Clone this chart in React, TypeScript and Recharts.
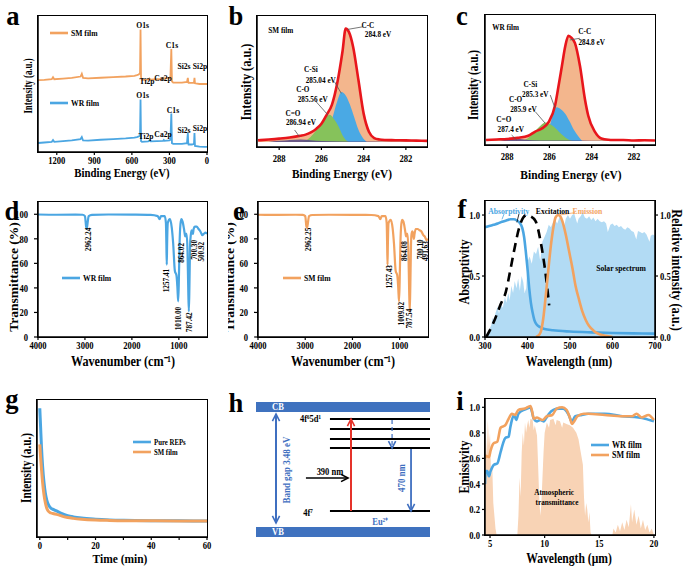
import React from "react";
import {
  ComposedChart,
  Line,
  Area,
  XAxis,
  YAxis,
  ReferenceArea,
  ReferenceLine,
  ReferenceDot,
} from "recharts";

const FONT = '"Liberation Serif", "Times New Roman", serif';
const BLUE = "#4ba6e2";
const ORANGE = "#f2a25f";
const RED = "#e8161c";
const CC_FILL = "#f3b68d";
const SI_FILL = "#4aa9e4";
const O_FILL = "#86c25b";
const CO_FILL = "#5d4f86";
const SOLAR = "#b2dbf4";
const ATMOS = "#f8d3b5";
const BAND = "#3f72bf";
const HBLUE = "#3f6fc0";

// ---------- a: XPS survey ----------
const aEnergy = [1350, 1300, 1240, 1230, 1220, 1150, 1080, 1010, 1000, 990, 950, 850, 750, 650, 580, 560, 545, 535, 531, 527, 520, 470, 460, 450, 400, 350, 345, 340, 300, 292, 285, 280, 270, 200, 160, 153, 150, 147, 120, 104, 100, 96, 60, 20, 0];
const aSM = [52.8, 53, 53.5, 55, 53.5, 54, 54.5, 55.5, 57.5, 54.5, 54.2, 54.6, 55, 55.5, 56, 56.5, 57, 58, 90, 55, 53, 53.2, 54, 53.2, 53.5, 53.8, 54.5, 54, 54.5, 55.5, 75.7, 52, 51, 51, 51.5, 54.5, 52, 50.8, 50.8, 51, 54.5, 50.5, 50, 50, 50];
const aWR = [6.6, 7, 7.5, 8.8, 7.5, 8, 8.5, 9.5, 11, 8.5, 8.3, 9, 9.5, 10, 10.5, 11, 11.5, 12, 38.6, 8, 7.5, 7.8, 8.5, 7.8, 8, 8.2, 8.8, 8.2, 8.5, 9, 28.3, 6.5, 6, 6, 6.5, 14, 7, 5.5, 5.5, 6, 14, 4.5, 4, 3.8, 3.7];
const aTicks = [1200, 900, 600, 300, 0];
const aNotes = [
  { x: 514, y: 93.4, t: "O1s" }, { x: 280, y: 78.7, t: "C1s" }, { x: 479, y: 52.2, t: "Ti2p" },
  { x: 351, y: 54.4, t: "Ca2p" }, { x: 184, y: 63.2, t: "Si2s" }, { x: 56, y: 63.2, t: "Si2p" },
  { x: 514, y: 41.9, t: "O1s" }, { x: 272, y: 30.9, t: "C1s" }, { x: 487, y: 11.8, t: "Ti2p" },
  { x: 351, y: 13.2, t: "Ca2p" }, { x: 184, y: 16.2, t: "Si2s" }, { x: 56, y: 17.6, t: "Si2p" },
];

// ---------- b: C1s SM film ----------
const bEnvE = [289.0, 288.5, 288.0, 287.5, 287.0, 286.75, 286.5, 286.25, 286.0, 285.75, 285.5, 285.25, 285.0, 284.85, 284.7, 284.5, 284.25, 284.0, 283.75, 283.5, 283.25, 283.0, 282.5, 282.0, 281.5, 281.0];
const bEnv = [1.5, 2.2, 3, 4, 5.5, 6.5, 8.5, 11.5, 16, 24, 33, 52, 80, 100, 97, 84, 55, 25, 9, 3.5, 2.2, 1.8, 1.6, 1.4, 1.2, 1];
const bSiE = [286.0, 285.75, 285.5, 285.25, 285.05, 284.85, 284.65, 284.45, 284.25, 284.05, 283.85];
const bSi = [0, 7, 20, 36, 44, 41, 33, 22, 11, 4, 0];
const bOE = [286.9, 286.6, 286.3, 286.0, 285.75, 285.6, 285.4, 285.2, 285.0, 284.8, 284.7];
const bO = [0, 3, 9, 17, 22.5, 24, 20, 14, 6, 1, 0];
const bCOE = [288.5, 288.0, 287.5, 287.0, 286.5, 286.0, 285.0, 284.0, 283.0, 282.0, 281.6];
const bCO = [0, 1, 1.8, 2.2, 1.6, 0.8, 0.5, 0.4, 0.3, 0.2, 0];
const bNotes = [
  { x: 287.92, y: 98.6, t: "SM film" },
  { x: 283.8, y: 103.0, t: "C-C" }, { x: 283.32, y: 95.0, t: "284.8 eV" },
  { x: 286.5, y: 64.2, t: "C-Si" }, { x: 286.03, y: 54.6, t: "285.04 eV" },
  { x: 286.88, y: 46.6, t: "C-O" }, { x: 286.41, y: 37.8, t: "285.56 eV" },
  { x: 287.35, y: 25.5, t: "C=O" }, { x: 286.97, y: 17.6, t: "286.94 eV" },
];
const bLeads = [
  [284.04, 101.5, 284.75, 99.2], [285.38, 53.1, 285.06, 42.9],
  [286.25, 35.5, 285.69, 23.8], [287.27, 10.6, 287.04, 4.7],
];

// ---------- c: C1s WR film ----------
const cEnvE = [289.0, 288.5, 288.0, 287.5, 287.0, 286.67, 286.35, 286.04, 285.73, 285.57, 285.41, 285.25, 285.1, 284.95, 284.79, 284.55, 284.32, 284.16, 283.85, 283.54, 283.2, 283.0, 282.5, 282.0, 281.5, 281.0];
const cEnv = [1, 1.5, 2, 3, 5, 9, 12, 18, 34, 52, 71, 90, 100, 98, 93, 71, 40, 24, 9, 2.5, 1.2, 1, 1, 0.5, 0.8, 0.5];
const cSiE = [286.45, 286.2, 285.95, 285.8, 285.65, 285.45, 285.25, 285.05, 284.85, 284.65, 284.45];
const cSi = [0, 6, 17, 27, 32, 30, 26, 19, 11, 5, 0];
const cOE = [287.4, 287.0, 286.7, 286.4, 286.2, 286.0, 285.7, 285.4, 285.1, 284.9];
const cO = [0, 3, 9, 15, 17.5, 16.5, 12, 6, 1.5, 0];
const cCOE = [288.4, 288.0, 287.6, 287.2, 286.8, 286.0, 285.0, 284.0, 283.0, 282.0, 281.6];
const cCO = [0, 1.5, 2.5, 1.5, 0.8, 0.6, 0.5, 0.4, 0.3, 0.2, 0];
const cNotes = [
  { x: 288.07, y: 108.3, t: "WR film" },
  { x: 284.33, y: 104.5, t: "C-C" }, { x: 284.0, y: 94.1, t: "284.8 eV" },
  { x: 286.9, y: 54.2, t: "C-Si" }, { x: 286.67, y: 44.7, t: "285.3 eV" },
  { x: 287.6, y: 39.9, t: "C-O" }, { x: 287.23, y: 30.4, t: "285.9 eV" },
  { x: 288.16, y: 20.9, t: "C=O" }, { x: 287.83, y: 11.4, t: "287.4 eV" },
];
const cLeads = [
  [284.56, 97.6, 285.03, 96.0], [285.96, 43.7, 285.73, 31.1],
  [286.67, 27.9, 286.2, 16.9], [287.79, 5.7, 287.55, 1.0],
];
const xpsTicks = [288, 286, 284, 282];

// ---------- d, e: FTIR ----------
const irNu = [4000, 3600, 3200, 3050, 3000, 2975, 2962, 2950, 2920, 2850, 2500, 2000, 1600, 1450, 1410, 1380, 1300, 1275, 1265, 1257, 1250, 1235, 1190, 1150, 1120, 1085, 1050, 1030, 1014, 1000, 985, 965, 945, 920, 890, 870, 864, 855, 835, 815, 800, 787, 775, 760, 748, 730, 715, 700, 685, 660, 620, 580, 540, 500, 470, 430, 400];
const dT = [99.8, 99.6, 99.7, 99.6, 98.5, 90, 88, 91, 98.5, 99.5, 99.8, 99.7, 99.5, 98.5, 96, 98.5, 98.5, 93, 75, 59, 75, 93, 96, 89, 76, 54, 50, 40, 29, 45, 75, 92, 96, 94, 88, 83, 82, 84, 84, 70, 40, 21, 40, 75, 82, 87, 86, 84, 88, 90, 90, 88, 86, 83, 84, 85, 84];
const eT = [99.6, 99.5, 99.6, 99.5, 98.5, 90, 89, 91, 98.5, 99.4, 99.6, 99.5, 99.4, 98.5, 96, 98.5, 98.5, 93, 75, 59, 75, 93, 95.5, 89, 76, 54, 50, 40, 29, 45, 75, 92, 95.5, 94, 88, 83, 82, 84, 84, 70, 40, 21, 40, 75, 84, 86, 84, 80, 84, 88, 88, 87, 86, 83, 82, 79, 80];
const irTicksX = [4000, 3000, 2000, 1000];
const irTicksY = [0, 20, 40, 60, 80, 100];
const dNotes = [
  { x: 2937, y: 79.5, t: "2962.24" }, { x: 1259, y: 46, t: "1257.41" }, { x: 1014, y: 15, t: "1010.00" },
  { x: 944, y: 68.5, t: "864.02" }, { x: 769, y: 12, t: "787.42" }, { x: 664, y: 71, t: "700.30" },
  { x: 524, y: 69.5, t: "500.92" },
];
const eNotes = [
  { x: 2941, y: 79.5, t: "2962.25" }, { x: 1227, y: 49, t: "1257.43" }, { x: 965, y: 19, t: "1009.82" },
  { x: 895, y: 70, t: "864.08" }, { x: 789, y: 15, t: "787.54" }, { x: 556, y: 71.5, t: "700.10" },
  { x: 450, y: 70, t: "491.63" },
];

// ---------- f: optical ----------
const fSolar = [[300, 0], [305, 0.02], [310, 0.06], [315, 0.1], [318, 0.16], [320, 0.12], [325, 0.2], [330, 0.25], [333, 0.19], [337, 0.27], [342, 0.24], [347, 0.33], [350, 0.28], [355, 0.36], [358, 0.3], [362, 0.42], [366, 0.36], [370, 0.46], [374, 0.4], [378, 0.48], [382, 0.38], [386, 0.5], [390, 0.45], [393, 0.36], [397, 0.4], [400, 0.62], [405, 0.66], [410, 0.6], [415, 0.7], [420, 0.68], [425, 0.74], [430, 0.62], [435, 0.78], [440, 0.82], [445, 0.86], [450, 0.92], [455, 0.9], [460, 0.94], [465, 0.96], [470, 0.93], [475, 0.98], [480, 0.99], [486, 0.9], [490, 0.97], [495, 1.0], [500, 0.97], [505, 1.0], [510, 1.01], [517, 0.93], [520, 0.97], [525, 0.99], [530, 1.02], [535, 0.98], [540, 0.97], [545, 0.99], [550, 0.96], [555, 0.98], [560, 0.95], [565, 0.97], [570, 0.95], [575, 0.94], [580, 0.95], [585, 0.93], [589, 0.86], [595, 0.92], [600, 0.93], [605, 0.91], [610, 0.92], [615, 0.9], [620, 0.91], [625, 0.89], [630, 0.88], [635, 0.9], [640, 0.89], [645, 0.87], [650, 0.86], [656, 0.8], [660, 0.87], [665, 0.86], [670, 0.85], [675, 0.86], [680, 0.84], [687, 0.78], [690, 0.83], [695, 0.84], [700, 0.83]];
const fAbs = [[300, 0.9], [310, 0.91], [320, 0.92], [330, 0.93], [340, 0.945], [350, 0.955], [360, 0.965], [368, 0.965], [375, 0.955], [382, 0.935], [388, 0.89], [392, 0.82], [396, 0.7], [400, 0.56], [404, 0.4], [408, 0.28], [412, 0.2], [416, 0.14], [422, 0.1], [430, 0.08], [440, 0.065], [460, 0.055], [500, 0.045], [550, 0.038], [600, 0.033], [650, 0.03], [700, 0.028]];
const fExc = [[303, 0], [315, 0.08], [325, 0.16], [337, 0.27], [349, 0.37], [358, 0.52], [368, 0.7], [380, 0.89], [390, 0.98], [398, 1.0], [407, 0.99], [419, 0.95], [431, 0.78], [441, 0.56], [451, 0.26]];
const fEm = [[420, 0], [425, 0.01], [431, 0.04], [437, 0.15], [443, 0.34], [449, 0.55], [455, 0.75], [461, 0.9], [466, 0.98], [472, 1.0], [477, 0.99], [482, 0.95], [490, 0.84], [498, 0.7], [506, 0.56], [513, 0.42], [521, 0.31], [529, 0.21], [537, 0.14], [545, 0.09], [556, 0.05], [568, 0.025], [584, 0.01], [600, 0]];
const fNotes = [
  { x: 356, y: 1.027, t: "Absorptivity", c: BLUE },
  { x: 459, y: 1.027, t: "Excitation", c: "#000" },
  { x: 541, y: 1.027, t: "Emission", c: ORANGE },
  { x: 620, y: 0.564, t: "Solar spectrum", c: "#000" },
];
const fLeads = [
  [345, 1.01, 340, 0.965, BLUE], [380, 1.01, 375, 0.94, "#000"], [512, 1.02, 476, 1.0, ORANGE],
];

// ---------- g: afterglow ----------
const gT = [0, 0.3, 0.6, 1, 1.5, 2, 2.5, 3, 4, 5, 6, 7, 8, 10, 12, 15, 20, 25, 30, 40, 50, 60];
const gPure = [94, 80, 66, 52, 40, 32, 27, 24, 21, 20, 19, 18, 17, 15.6, 14.7, 13.8, 13, 12.5, 12.2, 11.9, 11.8, 11.7];
const gSM = [67.6, 58, 50, 40, 31, 25, 21, 19, 17.5, 17, 16.5, 16, 15.2, 14.2, 13.6, 13, 12.4, 12.1, 11.9, 11.8, 11.7, 11.7];

// ---------- h: energy levels (diagram units 0..100) ----------
const hLevels = [87.4, 80, 72.6, 65.9];
const hGround = 19.3;

// ---------- i: emissivity ----------
const iWR = [[4.54, 0.4], [4.6, 0.5], [4.75, 0.5], [4.9, 0.46], [5.05, 0.5], [5.2, 0.53], [5.36, 0.55], [5.66, 0.56], [5.97, 0.65], [6.2, 0.72], [6.4, 0.76], [6.7, 0.77], [6.85, 0.84], [7.0, 0.9], [7.2, 0.94], [7.4, 0.9], [7.6, 0.95], [8.1, 0.98], [8.4, 0.99], [8.7, 1.0], [8.85, 0.96], [9.0, 0.91], [9.3, 0.89], [9.6, 0.9], [9.9, 0.89], [10.1, 0.91], [10.4, 0.95], [10.8, 0.98], [11.3, 0.99], [11.7, 0.99], [12.0, 0.97], [12.2, 0.94], [12.5, 0.89], [12.8, 0.93], [13.4, 0.94], [14.0, 0.95], [15.5, 0.95], [17.1, 0.93], [18.6, 0.92], [19.2, 0.91], [19.6, 0.9], [20.0, 0.89]];
const iSM = [[4.54, 0.6], [4.6, 0.62], [4.9, 0.61], [5.05, 0.66], [5.2, 0.7], [5.36, 0.72], [5.66, 0.73], [5.97, 0.84], [6.2, 0.85], [6.4, 0.86], [6.7, 0.91], [7.0, 0.95], [7.3, 0.94], [7.6, 0.98], [8.2, 0.99], [8.7, 1.01], [8.85, 0.97], [9.0, 0.91], [9.3, 0.92], [9.8, 0.9], [10.2, 0.93], [10.7, 0.94], [11.1, 0.99], [11.6, 1.0], [12.0, 0.98], [12.3, 0.92], [12.5, 0.87], [12.7, 0.89], [13.0, 0.93], [13.6, 0.95], [14.0, 0.95], [15.5, 0.94], [17.1, 0.93], [18.0, 0.93], [18.4, 0.95], [18.9, 0.92], [19.5, 0.94], [20.0, 0.9]];
const iAtm = [[4.54, 0.55], [4.6, 0.85], [4.7, 0.6], [4.8, 0.9], [4.9, 0.7], [5.0, 0.8], [5.1, 0.45], [5.2, 0.55], [5.3, 0.25], [5.4, 0.15], [5.5, 0.05], [5.6, 0], [7.5, 0], [7.6, 0.15], [7.7, 0.45], [7.8, 0.3], [7.9, 0.65], [8.0, 0.8], [8.1, 0.7], [8.2, 0.88], [8.3, 0.8], [8.4, 0.86], [8.5, 0.9], [8.6, 0.84], [8.7, 0.91], [8.9, 0.9], [9.0, 0.82], [9.1, 0.86], [9.3, 0.78], [9.4, 0.55], [9.5, 0.3], [9.6, 0.15], [9.7, 0.25], [9.8, 0.45], [9.9, 0.65], [10.0, 0.8], [10.2, 0.88], [10.4, 0.84], [10.5, 0.9], [10.8, 0.91], [11.0, 0.86], [11.1, 0.9], [11.4, 0.89], [11.6, 0.84], [11.7, 0.88], [12.0, 0.87], [12.3, 0.86], [12.6, 0.84], [12.9, 0.8], [13.1, 0.75], [13.3, 0.65], [13.5, 0.55], [13.6, 0.3], [13.7, 0.15], [13.8, 0.25], [13.9, 0.2], [14.0, 0.1], [14.1, 0.18], [14.2, 0.02], [14.3, 0], [16.2, 0], [16.3, 0.05], [16.5, 0.02], [16.7, 0.08], [16.9, 0.03], [17.1, 0.1], [17.3, 0.04], [17.5, 0.12], [17.7, 0.06], [17.9, 0.24], [18.0, 0.1], [18.2, 0.2], [18.4, 0.08], [18.6, 0.15], [18.8, 0.05], [19.0, 0.12], [19.2, 0.04], [19.4, 0.08], [19.6, 0.02], [19.8, 0.05], [20.0, 0]];
const iNotes = [
  { x: 10.86, y: 0.335, t: "Atmospheric" },
  { x: 11.13, y: 0.257, t: "transmittance" },
];

// ---------- helpers ----------
const zip = (xs: number[], ys: number[]) => xs.map((x, i) => ({ x, y: ys[i] }));
const pairs = (p: any[]) => p.map((q) => ({ x: q[0], y: q[1] }));

function SqText({ x, y, text, size = 9, color = "#000", anchor = "middle", angle = 0, sq = 0.85, weight = 700 }: any) {
  return (
    <text
      transform={`translate(${x},${y}) rotate(${angle}) scale(${sq},1)`}
      textAnchor={anchor}
      dominantBaseline="central"
      fontFamily={FONT}
      fontWeight={weight}
      fontSize={size}
      fill={color}
    >
      {text}
    </text>
  );
}

const num = (v: number) => String(v);
const one = (v: number) => v.toFixed(1);
const bottomTick = (fmt: (v: number) => string = num, dy = 3) => (p: any) => (
  <SqText x={p.x} y={p.y + dy} text={fmt(p.payload.value)} size={10.5} sq={0.82} />
);
const sideTick = (fmt: (v: number) => string = num, right = false) => (p: any) => (
  <SqText x={p.x} y={p.y} text={fmt(p.payload.value)} size={10.5} sq={0.82} anchor={right ? "start" : "end"} />
);

const AXL = { stroke: "#000", strokeWidth: 1.5 };
const TL = { stroke: "#000", strokeWidth: 1.2 };

const xAx = (domain: number[], ticks: number[], o: any = {}) => (
  <XAxis
    type="number"
    dataKey="x"
    domain={domain}
    ticks={ticks}
    interval={0}
    reversed={!!o.rev}
    allowDataOverflow
    height={22}
    axisLine={AXL}
    tickLine={TL}
    tickSize={3}
    tickMargin={2}
    tick={bottomTick(o.fmt, o.dy ?? 3)}
  />
);

const yAx = (domain: number[], ticks: number[] | null, o: any = {}) => (
  <YAxis
    yAxisId={o.id ?? 0}
    orientation={o.right ? "right" : "left"}
    type="number"
    dataKey="y"
    domain={domain}
    ticks={ticks ?? undefined}
    interval={0}
    allowDataOverflow
    width={o.width ?? 40}
    axisLine={AXL}
    tickLine={ticks ? TL : false}
    tickSize={ticks ? o.size ?? 3 : 0}
    tickMargin={o.gap ?? 2}
    tick={ticks ? sideTick(o.fmt, o.right) : false}
  />
);

const noteLabel = (n: any, size: number, angle = 0) => (p: any) => {
  const vb = p.viewBox || p;
  return <SqText x={vb.x} y={vb.y} text={n.t} size={size} color={n.c ?? "#000"} angle={angle} sq={0.85} />;
};

const notes = (list: any[], size = 8.5, angle = 0, yAxisId: any = 0) =>
  list.map((n, i) => (
    <ReferenceDot
      key={"n" + i}
      x={n.x}
      y={n.y}
      r={0}
      fill="none"
      stroke="none"
      yAxisId={yAxisId}
      ifOverflow="visible"
      label={noteLabel(n, size, angle)}
    />
  ));

const leads = (list: any[], color = "#555") =>
  list.map((s, i) => (
    <ReferenceLine
      key={"l" + i}
      segment={[{ x: s[0], y: s[1] }, { x: s[2], y: s[3] }]}
      stroke={s[4] ?? color}
      strokeWidth={0.8}
      ifOverflow="visible"
    />
  ));

const BOX: Record<string, { x: number; y: number; w: number; h: number }> = {
  a: { x: 38, y: 16, w: 169, h: 136 },
  b: { x: 257, y: 16, w: 170, h: 131 },
  c: { x: 485, y: 15, w: 170, h: 130 },
  d: { x: 38, y: 202, w: 169, h: 135 },
  e: { x: 258, y: 202, w: 170, h: 135 },
  f: { x: 485, y: 201, w: 170, h: 136 },
  g: { x: 37, y: 400, w: 170, h: 137 },
  h: { x: 256, y: 402, w: 174, h: 135 },
  i: { x: 485, y: 399, w: 170, h: 136 },
};
const framed = ["a", "b", "c", "d", "e", "f", "g", "i"];

function Plot({ box, rightAxis = 0, children }: any) {
  const L = 40, T = 4, B = 22;
  const R = rightAxis || 6;
  return (
    <div style={{ position: "absolute", left: box.x - L, top: box.y - T }}>
      <ComposedChart
        width={box.w + L + R}
        height={box.h + T + B}
        margin={{ top: T, right: rightAxis ? 0 : R, bottom: 0, left: 0 }}
      >
        {children}
      </ComposedChart>
    </div>
  );
}

const arrowShape = (color: string, o: any = {}) => (p: any) => {
  const { x1, y1, x2, y2 } = p;
  const ang = Math.atan2(y2 - y1, x2 - x1);
  const head = (x: number, y: number, a: number) => {
    const L = 7, W = 3.6;
    const bx = x - L * Math.cos(a), by = y - L * Math.sin(a);
    const px = -Math.sin(a) * W, py = Math.cos(a) * W;
    return <path d={`M${bx + px},${by + py} L${x},${y} L${bx - px},${by - py}`} fill="none" stroke={color} strokeWidth={1.6} />;
  };
  return (
    <g>
      <line x1={x1} y1={y1} x2={x2} y2={y2} stroke={color} strokeWidth={o.w ?? 1.8} strokeDasharray={o.dash ? "4 3" : undefined} />
      {head(x2, y2, ang)}
      {o.both ? head(x1, y1, ang + Math.PI) : null}
    </g>
  );
};

// ---------- panels ----------
function PanelA() {
  const xd = [0, 1350], yd = [0, 100];
  return (
    <Plot box={BOX.a}>
      {xAx(xd, aTicks, { rev: true })}
      {yAx(yd, null)}
      <Line data={zip(aEnergy, aSM)} dataKey="y" type="linear" stroke={ORANGE} strokeWidth={1.8} dot={false} isAnimationActive={false} />
      <Line data={zip(aEnergy, aWR)} dataKey="y" type="linear" stroke={BLUE} strokeWidth={1.8} dot={false} isAnimationActive={false} />
      {notes(aNotes, 9)}
    </Plot>
  );
}

function XpsPanel({ box, yd, env, envE, si, siE, o, oE, co, coE, nts, lds }: any) {
  const xd = [281, 289.05];
  return (
    <Plot box={box}>
      {xAx(xd, xpsTicks, { rev: true, dy: 6 })}
      {yAx(yd, null)}
      <Area data={zip(envE, env)} dataKey="y" type="monotone" fill={CC_FILL} fillOpacity={1} stroke="none" baseValue={0} isAnimationActive={false} />
      <Area data={zip(siE, si)} dataKey="y" type="monotone" fill={SI_FILL} fillOpacity={1} stroke="none" baseValue={0} isAnimationActive={false} />
      <Area data={zip(oE, o)} dataKey="y" type="monotone" fill={O_FILL} fillOpacity={1} stroke="none" baseValue={0} isAnimationActive={false} />
      <Area data={zip(coE, co)} dataKey="y" type="monotone" fill={CO_FILL} fillOpacity={0.9} stroke="none" baseValue={0} isAnimationActive={false} />
      <Line data={zip(envE, env)} dataKey="y" type="monotone" stroke={RED} strokeWidth={2.6} dot={false} isAnimationActive={false} />
      {leads(lds)}
      {notes(nts, 8.5)}
    </Plot>
  );
}

function IrPanel({ box, ys, color, nts }: any) {
  const xd = [400, 4000], yd = [0, 110];
  return (
    <Plot box={box}>
      {xAx(xd, irTicksX, { rev: true })}
      {yAx(yd, irTicksY, { size: 4, gap: 6 })}
      <Line data={zip(irNu, ys)} dataKey="y" type="monotone" stroke={color} strokeWidth={2.2} dot={false} isAnimationActive={false} />
      {notes(nts, 8.5, -90)}
    </Plot>
  );
}

function PanelF() {
  const xd = [300, 700], yd = [0, 1.115];
  return (
    <Plot box={BOX.f} rightAxis={26}>
      {xAx(xd, [300, 400, 500, 600, 700])}
      {yAx(yd, [0, 0.5, 1], { fmt: one })}
      {yAx(yd, [0, 0.5, 1], { fmt: one, id: "r", right: true, width: 26 })}
      <Area yAxisId="r" data={pairs(fSolar)} dataKey="y" type="linear" fill={SOLAR} fillOpacity={1} stroke="none" baseValue={0} isAnimationActive={false} />
      <Line data={pairs(fAbs)} dataKey="y" type="monotone" stroke={BLUE} strokeWidth={2.6} dot={false} isAnimationActive={false} />
      <Line data={pairs(fExc)} dataKey="y" type="monotone" stroke="#000" strokeWidth={2.6} strokeDasharray="9 6" dot={false} isAnimationActive={false} />
      <Line data={pairs(fEm)} dataKey="y" type="monotone" stroke={ORANGE} strokeWidth={2.6} dot={false} isAnimationActive={false} />
      {leads(fLeads)}
      {notes(fNotes, 9)}
    </Plot>
  );
}

function PanelG() {
  const xd = [-1, 60], yd = [0, 100];
  return (
    <Plot box={BOX.g}>
      {xAx(xd, [0, 10, 20, 30, 40, 50, 60], { fmt: (v: number) => (v % 20 === 0 ? String(v) : "") })}
      {yAx(yd, null)}
      <Line data={zip(gT, gPure)} dataKey="y" type="monotone" stroke={BLUE} strokeWidth={3} dot={false} isAnimationActive={false} />
      <Line data={zip(gT, gSM)} dataKey="y" type="monotone" stroke={ORANGE} strokeWidth={3} dot={false} isAnimationActive={false} />
    </Plot>
  );
}

function PanelH() {
  const b = BOX.h;
  const seg = (x1: number, y1: number, x2: number, y2: number) => [{ x: x1, y: y1 }, { x: x2, y: y2 }];
  const hNotes = [
    { x: 12.6, y: 96.3, t: "CB", c: "#fff" },
    { x: 12.6, y: 3.7, t: "VB", c: "#fff" },
    { x: 31.3, y: 87.4, t: "4f\u20765d\u00b9" },
    { x: 29.9, y: 17.8, t: "4f\u2077" },
    { x: 42.5, y: 48.1, t: "390 nm" },
    { x: 71.3, y: 11.1, t: "Eu\u00b2\u207a", c: HBLUE },
  ];
  const hRot = [
    { x: 17.2, y: 49.6, t: "Band gap 3.48 eV", c: HBLUE },
    { x: 83.3, y: 43.7, t: "470 nm", c: HBLUE },
  ];
  return (
    <div style={{ position: "absolute", left: b.x, top: b.y }}>
      <ComposedChart width={b.w} height={b.h} margin={{ top: 0, right: 0, bottom: 0, left: 0 }}>
        <XAxis type="number" dataKey="x" domain={[0, 100]} hide height={0} allowDataOverflow />
        <YAxis type="number" dataKey="y" domain={[0, 100]} hide width={0} allowDataOverflow />
        <ReferenceArea x1={0} x2={100} y1={92.6} y2={100} fill={BAND} fillOpacity={1} stroke="none" ifOverflow="visible" />
        <ReferenceArea x1={0} x2={100} y1={0} y2={7.4} fill={BAND} fillOpacity={1} stroke="none" ifOverflow="visible" />
        {hLevels.map((lv, i) => (
          <ReferenceLine key={"lv" + i} segment={seg(42.5, lv, 100, lv)} stroke="#000" strokeWidth={2} ifOverflow="visible" />
        ))}
        <ReferenceLine segment={seg(42.5, hGround, 100, hGround)} stroke="#000" strokeWidth={2} ifOverflow="visible" />
        <ReferenceLine segment={seg(11.5, 91.1, 11.5, 10.4)} ifOverflow="visible" shape={arrowShape(HBLUE, { both: true, w: 2 })} />
        <ReferenceLine segment={seg(54.6, hGround, 54.6, 87.4)} ifOverflow="visible" shape={arrowShape("#e5332a", { w: 2 })} />
        <ReferenceLine segment={seg(28.7, 43.7, 52.9, 43.7)} ifOverflow="visible" shape={arrowShape("#000", { w: 1.4 })} />
        <ReferenceLine segment={seg(78.2, 86.7, 78.2, 65.9)} ifOverflow="visible" shape={arrowShape(HBLUE, { dash: true, w: 1.2 })} />
        <ReferenceLine segment={seg(89.1, 65.2, 89.1, hGround)} ifOverflow="visible" shape={arrowShape(HBLUE, { w: 1.8 })} />
        {notes(hNotes, 10)}
        {notes(hRot, 10.5, -90)}
      </ComposedChart>
    </div>
  );
}

function PanelI() {
  const xd = [4.54, 20.1], yd = [0, 1.065];
  return (
    <Plot box={BOX.i}>
      {xAx(xd, [5, 10, 15, 20])}
      {yAx(yd, [0, 0.2, 0.4, 0.6, 0.8, 1.0], { fmt: one })}
      <Area data={pairs(iAtm)} dataKey="y" type="linear" fill={ATMOS} fillOpacity={1} stroke="none" baseValue={0} isAnimationActive={false} />
      <Line data={pairs(iWR)} dataKey="y" type="monotone" stroke={BLUE} strokeWidth={2.6} dot={false} isAnimationActive={false} />
      <Line data={pairs(iSM)} dataKey="y" type="monotone" stroke={ORANGE} strokeWidth={2.6} dot={false} isAnimationActive={false} />
      {notes(iNotes, 8.5)}
    </Plot>
  );
}

// ---------- overlay texts ----------
const letters: [string, number, number][] = [
  ["a", 13, 16], ["b", 236, 16], ["c", 462, 16], ["d", 12, 211], ["e", 239, 211],
  ["f", 462, 209], ["g", 12, 399], ["h", 236, 403], ["i", 460, 401],
];
const titles: any[] = [
  ["Binding Energy (eV)", 122, 173, 0, 13.5, 0.8],
  ["Intensity (a.u.)", 27, 86, -90, 13, 0.68],
  ["Binding Energy (eV)", 342, 174, 0, 13.5, 0.84],
  ["Intensity (a.u.)", 246, 82, -90, 14, 0.88],
  ["Binding Energy (eV)", 571, 175, 0, 13.5, 0.85],
  ["Intensity (a.u.)", 474, 85, -90, 14, 0.8],
  ["Wavenumber (cm\u207b\u00b9)", 123, 361, 0, 14, 0.87],
  ["Transmittance (%)", 13, 277, -90, 13.5, 1],
  ["Wavenumber (cm\u207b\u00b9)", 343, 361, 0, 14, 0.87],
  ["Wavelength (nm)", 569, 361, 0, 14, 0.84],
  ["Absorptivity", 464, 272, -90, 14, 0.86],
  ["Relative intensity (a.u.)", 677, 270, 90, 14, 0.88],
  ["Time (min)", 120, 559, 0, 13.5, 0.85],
  ["Intensity (a.u.)", 27, 468, -90, 14, 0.8],
  ["Wavelength (\u03bcm)", 569, 559, 0, 14, 0.83],
  ["Emissivity", 464, 467, -90, 14, 0.85],
];
const legends: any[] = [
  [50, 68, 33, ORANGE, "SM film", 9],
  [50, 68, 103, BLUE, "WR film", 9],
  [62, 80, 278, BLUE, "WR film", 9],
  [283, 301, 278, ORANGE, "SM film", 9],
  [133, 151, 442, BLUE, "Pure REPs", 8],
  [133, 151, 452, ORANGE, "SM film", 8],
  [591, 609, 445, BLUE, "WR film", 9.5],
  [591, 609, 455, ORANGE, "SM film", 9.5],
];

export default function App() {
  return (
    <div style={{ position: "absolute", left: 0, top: 0, width: 685, height: 568, background: "#fff", overflow: "hidden" }}>
      <PanelA />
      <XpsPanel box={BOX.b} yd={[-4.4, 111]} env={bEnv} envE={bEnvE} si={bSi} siE={bSiE} o={bO} oE={bOE} co={bCO} coE={bCOE} nts={bNotes} lds={bLeads} />
      <XpsPanel box={BOX.c} yd={[-3.75, 119.7]} env={cEnv} envE={cEnvE} si={cSi} siE={cSiE} o={cO} oE={cOE} co={cCO} coE={cCOE} nts={cNotes} lds={cLeads} />
      <IrPanel box={BOX.d} ys={dT} color={BLUE} nts={dNotes} />
      <IrPanel box={BOX.e} ys={eT} color={ORANGE} nts={eNotes} />
      <PanelF />
      <PanelG />
      <PanelH />
      <PanelI />
      {framed.map((k) => (
        <div
          key={"fr" + k}
          style={{
            position: "absolute",
            left: BOX[k].x - 1,
            top: BOX[k].y - 1,
            width: BOX[k].w + 2,
            height: BOX[k].h + 2,
            border: "1.5px solid #000",
            boxSizing: "border-box",
            zIndex: 5,
            pointerEvents: "none",
          }}
        />
      ))}
      <svg width={685} height={568} style={{ position: "absolute", left: 0, top: 0, pointerEvents: "none", zIndex: 6 }}>
        <defs>
          <clipPath id="eTitleClip">
            <rect x={228} y={200} width={20} height={150} />
          </clipPath>
        </defs>
        {letters.map(([t, x, y]) => (
          <SqText key={t} x={x} y={y} text={t} size={28} sq={0.95} />
        ))}
        {titles.map((t, i) => (
          <SqText key={"t" + i} x={t[1]} y={t[2]} text={t[0]} angle={t[3]} size={t[4]} sq={t[5]} />
        ))}
        <g clipPath="url(#eTitleClip)">
          <SqText x={229} y={277} text="Transmittance (%)" angle={-90} size={13.5} sq={1} />
        </g>
        {legends.map((l, i) => (
          <g key={"lg" + i}>
            <line x1={l[0]} y1={l[2]} x2={l[1]} y2={l[2]} stroke={l[3]} strokeWidth={2.6} />
            <SqText x={l[1] + 3} y={l[2]} text={l[4]} size={l[5]} anchor="start" sq={0.85} />
          </g>
        ))}
      </svg>
    </div>
  );
}
